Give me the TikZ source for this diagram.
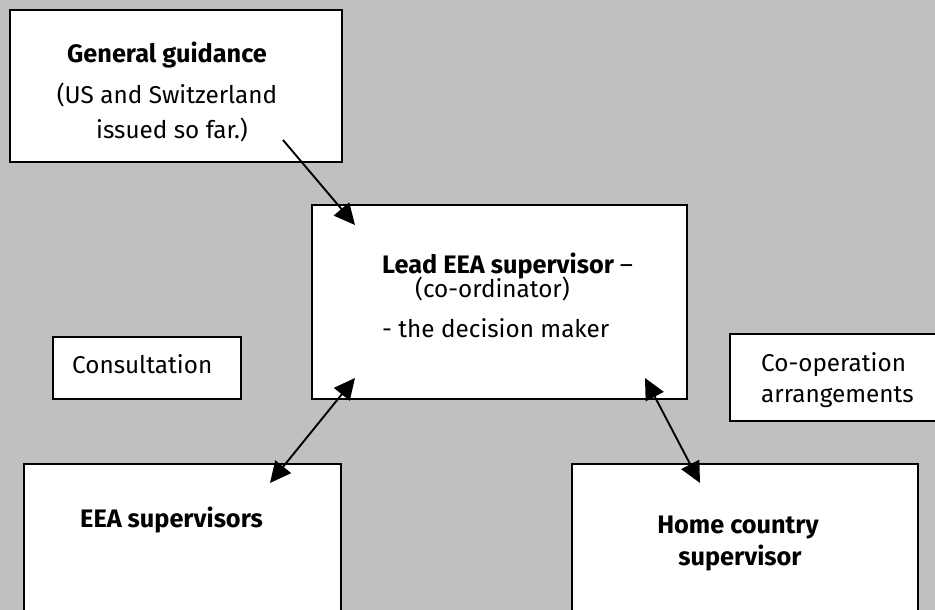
\documentclass[tikz,border=0pt]{standalone}
\usepackage{fontspec}
\setmainfont{Fira Sans}
\usetikzlibrary{arrows.meta}
\definecolor{bg}{HTML}{C0C0C0}
\tikzset{
  box/.style={draw=black, fill=white, line width=1.2pt, inner sep=0pt, outer sep=0pt, anchor=north west},
  txt/.style={inner sep=0pt, anchor=base, font=\fontsize{24.3}{31}\selectfont},
  btxt/.style={txt, font=\fontsize{25.3}{31}\selectfont\bfseries},
  conn/.style={line width=1.9pt, -{Triangle[length=21pt,width=20pt]}},
  dconn/.style={line width=1.9pt, {Triangle[length=21pt,width=20pt]}-{Triangle[length=21pt,width=20pt]}}
}
\begin{document}
\begin{tikzpicture}[x=1pt,y=-1pt]
\useasboundingbox (0,0) rectangle (935,610);
\clip (0,0) rectangle (935,610);
\fill[bg] (0,0) rectangle (935,610);
% boxes
\node[box, minimum width=332pt, minimum height=152pt] (gg) at (10,10) {};
\node[box, minimum width=375pt, minimum height=194pt] (lead) at (312,205) {};
\node[box, minimum width=188pt, minimum height=62pt] (cons) at (53,337) {};
\node[box, minimum width=210pt, minimum height=87pt] (coop) at (730,334) {};
\node[box, minimum width=317pt, minimum height=160pt] (eea) at (24,464) {};
\node[box, minimum width=346pt, minimum height=160pt] (home) at (572,464) {};
% texts
\node[btxt] (gg1) at (167,63) {General guidance};
\node[txt] (gg2) at (167,103) {(US and Switzerland};
\node[txt] (gg3) at (172,138) {issued so far.)};
\node[btxt, anchor=base west] (ld1) at (382,273) {Lead EEA supervisor \mdseries –};
\node[txt, anchor=base west] (ld2) at (415,297) {(co-ordinator)};
\node[txt, anchor=base west] (ld3) at (382,337) {- the decision maker};
\node[txt, anchor=base west] (cs1) at (72,373) {Consultation};
\node[txt, anchor=base west] (co1) at (761,371) {Co-operation};
\node[txt, anchor=base west] (co2) at (761,402) {arrangements};
\node[btxt, anchor=base west] (ea1) at (80,527) {EEA supervisors};
\node[btxt] (hm1) at (738,533) {Home country};
\node[btxt] (hm2) at (740,565) {supervisor};
% connector ends
\coordinate (gA) at (283,140);
\coordinate (lA) at (355,225);
\coordinate (lB) at (355,378);
\coordinate (eB) at (270,483);
\coordinate (lC) at (645,378);
\coordinate (hC) at (700,483);
\draw[conn] (gA) -- (lA);
\draw[dconn] (eB) -- (lB);
\draw[dconn] (lC) -- (hC);
\end{tikzpicture}
\end{document}
